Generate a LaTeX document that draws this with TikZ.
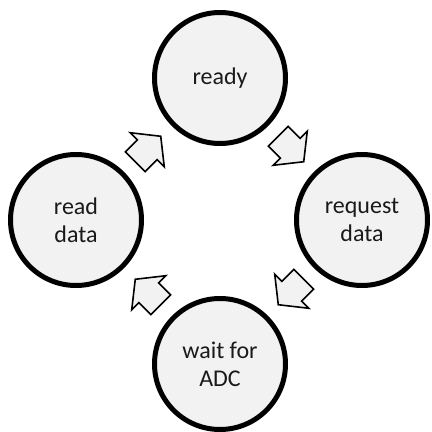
\documentclass[tikz,border=0pt]{standalone}
\usepackage{fontspec}
\setmainfont{Carlito}
\usetikzlibrary{calc}
\definecolor{statefill}{HTML}{F2F2F2}
\definecolor{statetext}{HTML}{1A1A1A}
\begin{document}
\begin{tikzpicture}[x=1pt, y=1pt,
  state/.style={circle, draw, line width=5pt, fill=statefill, minimum size=131pt,
    inner sep=0pt, align=center, text=statetext, font=\fontsize{24}{28}\selectfont},
  flowarrow/.pic={\draw[line width=1.6pt, fill=statefill, line join=miter]
    (-18,-14) -- (-1,-14) -- (-1,-24) -- (18,0) -- (-1,24) -- (-1,14) -- (-18,14) -- cycle;}]
\useasboundingbox (0,0) rectangle (432,432);
\node[state] (ready) at (220,354) {ready};
\node[state] (req) at (362,212) {request\\data};
\node[state] (wait) at (220,68) {wait for\\ADC};
\node[state] (rd) at (76,212) {read\\data};
\pic[rotate=-45] at ($(ready)!0.5!(req)$) {flowarrow};
\pic[rotate=-135] at ($(req)!0.5!(wait)$) {flowarrow};
\pic[rotate=135] at ($(wait)!0.5!(rd)$) {flowarrow};
\pic[rotate=45] at ($(rd)!0.5!(ready)$) {flowarrow};
\end{tikzpicture}
\end{document}
